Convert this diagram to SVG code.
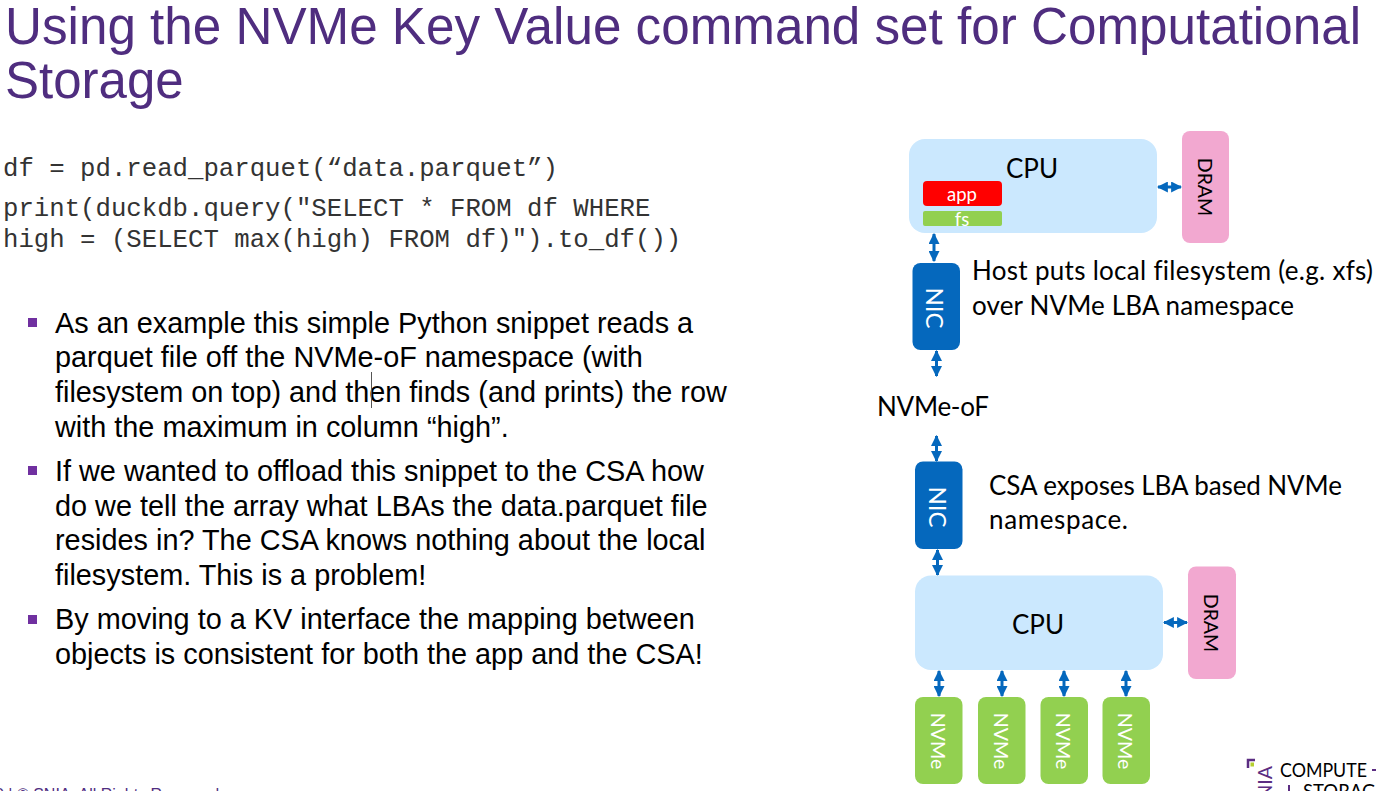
<svg xmlns="http://www.w3.org/2000/svg" width="1376" height="791" viewBox="0 0 1376 791">
<style>
.title{font:51px "Liberation Sans",Arial,sans-serif;fill:#4f2d7f}
.code{font:25.7px "Liberation Mono","Courier New",monospace;fill:#333}
.body{font:28.85px "Liberation Sans",Arial,sans-serif;fill:#000}
.lab{font:26px Lato,"Open Sans",sans-serif;fill:#000;font-variant-ligatures:none}
.c{text-anchor:middle;dominant-baseline:central}
.w{fill:#fff}
.cpu{fill:#cbe8fe}.dram{fill:#f2a8d0}.nic{fill:#0568bd}.nvme{fill:#92d050}
.bul{fill:#7030a0}
.arr{stroke:#0568bd;stroke-width:3;fill:none;marker-start:url(#h);marker-end:url(#h)}
</style>
<defs><marker id="h" viewBox="0 0 10 10" refX="9" refY="5" markerUnits="userSpaceOnUse" markerWidth="11" markerHeight="11" orient="auto-start-reverse"><path d="M0 0L10 5L0 10Z" fill="#0568bd"/></marker></defs>
<rect width="1376" height="791" fill="#fff"/>
<g id="title"><text class="title" x="5" y="44" textLength="1356" lengthAdjust="spacingAndGlyphs">Using the NVMe Key Value command set for Computational</text><text class="title" x="5" y="98">Storage</text></g>
<g id="code"><text class="code" x="3" y="176">df = pd.read_parquet(“data.parquet”)</text><text class="code" x="3" y="216">print(duckdb.query("SELECT * FROM df WHERE</text><text class="code" x="3" y="247">high = (SELECT max(high) FROM df)").to_df())</text></g>
<g id="bullets">
<rect class="bul" x="28" y="318" width="9" height="9"/><rect class="bul" x="28" y="466" width="9" height="9"/><rect class="bul" x="28" y="615" width="9" height="9"/>
<text class="body" x="55" y="333">As an example this simple Python snippet reads a</text>
<text class="body" x="55" y="367">parquet file off the NVMe-oF namespace (with</text>
<text class="body" x="55" y="402">filesystem on top) and then finds (and prints) the row</text>
<text class="body" x="55" y="437">with the maximum in column “high”.</text>
<text class="body" x="55" y="481">If we wanted to offload this snippet to the CSA how</text>
<text class="body" x="55" y="516">do we tell the array what LBAs the data.parquet file</text>
<text class="body" x="55" y="550">resides in? The CSA knows nothing about the local</text>
<text class="body" x="55" y="585">filesystem. This is a problem!</text>
<text class="body" x="55" y="629">By moving to a KV interface the mapping between</text>
<text class="body" x="55" y="664">objects is consistent for both the app and the CSA!</text>
<rect x="371" y="372" width="1" height="36" fill="#555"/>
</g>
<g id="connectors">
<line class="arr" x1="1158" y1="187" x2="1181" y2="187"/>
<line class="arr" x1="934" y1="234" x2="934" y2="261"/>
<line class="arr" x1="936.5" y1="351" x2="936.5" y2="376"/>
<line class="arr" x1="936.5" y1="436" x2="936.5" y2="461"/>
<line class="arr" x1="937.5" y1="550" x2="937.5" y2="575"/>
<line class="arr" x1="1164" y1="622.5" x2="1187" y2="622.5"/>
<line class="arr" x1="939" y1="671" x2="939" y2="696"/>
<line class="arr" x1="1002" y1="671" x2="1002" y2="696"/>
<line class="arr" x1="1064" y1="671" x2="1064" y2="696"/>
<line class="arr" x1="1126" y1="671" x2="1126" y2="696"/>
</g>
<g id="cpu1"><rect class="cpu" x="909" y="139" width="248" height="94" rx="16"/><text class="lab" x="1032" y="178" text-anchor="middle">CPU</text></g>
<g id="app"><rect x="923" y="181" width="79" height="25" rx="4" fill="#f00"/><text class="lab w c" x="962" y="194" style="font-size:18.500px">app</text></g>
<g id="fs"><rect class="nvme" x="923" y="211" width="79" height="15" rx="2"/><text class="lab w c" x="962" y="219" style="font-size:18.500px">fs</text></g>
<g id="dram1"><rect class="dram" x="1182" y="131" width="47" height="112" rx="8"/><text class="lab c" transform="translate(1205 187) rotate(90)" style="font-size:19.500px">DRAM</text></g>
<g id="nic1"><rect class="nic" x="912.500" y="263" width="47.500" height="87" rx="8"/><text class="lab w c" transform="translate(935 308) rotate(90)" style="font-size:24px">NIC</text></g>
<g id="nvmeof"><text class="lab" x="877" y="416" textLength="112">NVMe-oF</text></g>
<g id="note1"><text class="lab" x="972" y="280" textLength="401">Host puts local filesystem (e.g. xfs)</text><text class="lab" x="972" y="315" textLength="322">over NVMe LBA namespace</text></g>
<g id="nic2"><rect class="nic" x="915" y="461.500" width="47.500" height="87.500" rx="8"/><text class="lab w c" transform="translate(938 507) rotate(90)" style="font-size:24px">NIC</text></g>
<g id="note2"><text class="lab" x="989" y="495" textLength="353">CSA exposes LBA based NVMe</text><text class="lab" x="989" y="529" textLength="139">namespace.</text></g>
<g id="cpu2"><rect class="cpu" x="915" y="575.500" width="248" height="94.500" rx="16"/><text class="lab" x="1038" y="634" text-anchor="middle">CPU</text></g>
<g id="dram2"><rect class="dram" x="1188" y="566.500" width="48" height="112.500" rx="8"/><text class="lab c" transform="translate(1211 623) rotate(90)" style="font-size:19.500px">DRAM</text></g>
<g id="nvme1"><rect class="nvme" x="915" y="697" width="47.500" height="87" rx="8"/><text class="lab w c" transform="translate(938 741) rotate(90)" style="font-size:19.600px">NVMe</text></g>
<g id="nvme2"><rect class="nvme" x="978" y="697" width="47.500" height="87" rx="8"/><text class="lab w c" transform="translate(1001 741) rotate(90)" style="font-size:19.600px">NVMe</text></g>
<g id="nvme3"><rect class="nvme" x="1040.500" y="697" width="47.500" height="87" rx="8"/><text class="lab w c" transform="translate(1063 741) rotate(90)" style="font-size:19.600px">NVMe</text></g>
<g id="nvme4"><rect class="nvme" x="1102.500" y="697" width="47.500" height="87" rx="8"/><text class="lab w c" transform="translate(1125 741) rotate(90)" style="font-size:19.600px">NVMe</text></g>
<g id="footer"><text x="-5" y="800" style="font:16px 'Liberation Sans',Arial,sans-serif;fill:#4f2d7f">0 | © SNIA. All Rights Reserved.</text></g>
<g id="logo">
<path d="M1248 768V760H1255" stroke="#5b2d82" stroke-width="2.500" fill="none"/><rect x="1250.500" y="762.500" width="3.500" height="4" fill="#b5cf2e"/>
<text transform="translate(1272 766) rotate(-90)" text-anchor="end" style="font:19.500px Lato,sans-serif;fill:#5b2d82">SNIA</text>
<text x="1280" y="776.500" textLength="87" lengthAdjust="spacingAndGlyphs" style="font:18.500px Lato,sans-serif;fill:#000">COMPUTE</text>
<rect x="1372" y="769" width="4" height="2" fill="#5b2d82"/>
<rect x="1288" y="785" width="2" height="6" fill="#5b2d82"/>
<text x="1303" y="798" style="font:18.500px Lato,sans-serif;fill:#000">STORAGE</text>
</g>
</svg>
